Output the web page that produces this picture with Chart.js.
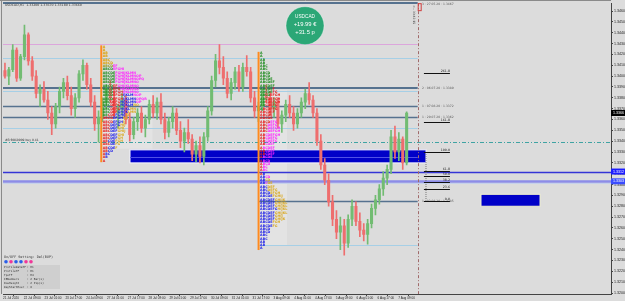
<!DOCTYPE html>
<html><head><meta charset="utf-8">
<script src="https://cdn.jsdelivr.net/npm/chart.js@4.4.1/dist/chart.umd.min.js"></script>
<style>html,body{margin:0;padding:0;background:#dcdcdc;overflow:hidden}#wrap{width:625px;height:301px}</style>
</head><body><div id="wrap"><canvas id="c" width="625" height="301"></canvas></div>
<script>
// ---- data (3-hour candles of USDCAD H1 chart) ----
const opens = [1.3405,1.3400,1.3406,1.3424,1.3398,1.3418,1.3438,1.3414,1.3400,1.3384,
1.3388,1.3378,1.3366,1.3356,1.3372,1.3386,1.3394,1.3382,1.3370,1.3380,
1.3402,1.3410,1.3392,1.3376,1.3356,1.3362,1.3376,1.3388,1.3380,1.3366,
1.3370,1.3378,1.3360,1.3346,1.3358,1.3366,1.3352,1.3360,1.3374,1.3366,
1.3376,1.3360,1.3348,1.3358,1.3366,1.3350,1.3340,1.3348,1.3342,1.3328,
1.3336,1.3326,1.3344,1.3368,1.3396,1.3414,1.3408,1.3398,1.3384,1.3394,
1.3404,1.3390,1.3408,1.3404,1.3380,1.3368,1.3372,1.3384,1.3380,1.3370,
1.3376,1.3356,1.3364,1.3374,1.3366,1.3356,1.3366,1.3376,1.3384,1.3378,
1.3366,1.3340,1.3318,1.3304,1.3284,1.3268,1.3256,1.3262,1.3246,1.3268,
1.3280,1.3266,1.3258,1.3254,1.3264,1.3278,1.3286,1.3296,1.3306,1.3314,
1.3344,1.3330,1.3342,1.3320];
const highs = [1.3412,1.3408,1.3429,1.3426,1.3420,1.3447,1.3440,1.3418,1.3405,1.3392,
1.3395,1.3386,1.3372,1.3375,1.3390,1.3398,1.3400,1.3390,1.3384,1.3405,
1.3415,1.3412,1.3398,1.3382,1.3368,1.3380,1.3392,1.3396,1.3386,1.3374,
1.3384,1.3382,1.3366,1.3362,1.3370,1.3372,1.3364,1.3378,1.3382,1.3380,
1.3384,1.3366,1.3362,1.3372,1.3370,1.3358,1.3352,1.3360,1.3346,1.3340,
1.3344,1.3348,1.3372,1.3400,1.3420,1.3429,1.3418,1.3404,1.3398,1.3408,
1.3410,1.3412,1.3419,1.3408,1.3386,1.3376,1.3388,1.3392,1.3386,1.3380,
1.3380,1.3368,1.3378,1.3382,1.3372,1.3370,1.3380,1.3388,1.3394,1.3382,
1.3370,1.3346,1.3324,1.3310,1.3290,1.3276,1.3270,1.3268,1.3272,1.3286,
1.3284,1.3274,1.3264,1.3268,1.3282,1.3290,1.3300,1.3312,1.3318,1.3350,
1.3354,1.3348,1.3344,1.3367];
const lows = [1.3398,1.3392,1.3404,1.3395,1.3396,1.3415,1.3410,1.3396,1.3380,1.3372,
1.3376,1.3360,1.3346,1.3352,1.3366,1.3380,1.3378,1.3364,1.3362,1.3376,
1.3396,1.3388,1.3372,1.3350,1.3339,1.3358,1.3370,1.3376,1.3362,1.3352,
1.3364,1.3356,1.3340,1.3342,1.3350,1.3348,1.3344,1.3356,1.3362,1.3360,
1.3356,1.3342,1.3344,1.3352,1.3346,1.3334,1.3330,1.3338,1.3322,1.3321,
1.3320,1.3318,1.3340,1.3364,1.3390,1.3402,1.3392,1.3380,1.3378,1.3388,
1.3386,1.3386,1.3400,1.3376,1.3362,1.3358,1.3368,1.3376,1.3364,1.3362,
1.3352,1.3348,1.3358,1.3362,1.3350,1.3352,1.3362,1.3370,1.3374,1.3362,
1.3336,1.3314,1.3300,1.3280,1.3262,1.3250,1.3240,1.3235,1.3242,1.3262,
1.3262,1.3252,1.3248,1.3245,1.3260,1.3272,1.3282,1.3290,1.3300,1.3310,
1.3324,1.3322,1.3314,1.3318];
const closes = [1.3400,1.3406,1.3424,1.3398,1.3418,1.3438,1.3414,1.3400,1.3384,1.3388,
1.3378,1.3366,1.3356,1.3372,1.3386,1.3394,1.3382,1.3370,1.3380,1.3402,
1.3410,1.3392,1.3376,1.3356,1.3362,1.3376,1.3388,1.3380,1.3366,1.3370,
1.3378,1.3360,1.3346,1.3358,1.3366,1.3352,1.3360,1.3374,1.3366,1.3376,
1.3360,1.3348,1.3358,1.3366,1.3350,1.3340,1.3348,1.3342,1.3328,1.3336,
1.3326,1.3344,1.3368,1.3396,1.3414,1.3408,1.3398,1.3384,1.3394,1.3404,
1.3390,1.3408,1.3404,1.3380,1.3368,1.3372,1.3384,1.3380,1.3370,1.3376,
1.3356,1.3364,1.3374,1.3366,1.3356,1.3366,1.3376,1.3384,1.3378,1.3366,
1.3340,1.3318,1.3304,1.3284,1.3268,1.3256,1.3262,1.3246,1.3268,1.3280,
1.3266,1.3258,1.3254,1.3264,1.3278,1.3286,1.3296,1.3306,1.3314,1.3344,
1.3330,1.3342,1.3320,1.3366];
const dateLabels = ["21 Jul 2020","22 Jul 09:00","23 Jul 01:00","23 Jul 17:00","24 Jul 09:00","27 Jul 01:00","27 Jul 17:00","28 Jul 09:00","29 Jul 01:00","29 Jul 17:00","30 Jul 09:00","31 Jul 01:00","31 Jul 17:00","3 Aug 09:00","4 Aug 01:00","4 Aug 17:00","5 Aug 09:00","6 Aug 01:00","6 Aug 17:00","7 Aug 09:00"];
const priceTicks = [1.3200,1.3210,1.3220,1.3230,1.3240,1.3250,1.3260,1.3270,1.3280,1.3290,1.3300,1.3310,1.3320,1.3330,1.3340,1.3350,1.3360,1.3370,1.3380,1.3390,1.3400,1.3410,1.3420,1.3430,1.3440,1.3450,1.3460];
// levels drawn by indicators
const darkLevels = [1.34675,1.3389,1.3372,1.3362,1.3285];
const darkLevelLabels = ["3 : 27.05.20 : 1.3467","2 : 06.07.20 : 1.3389","1 : 07.08.20 : 1.3372","1 : 29.07.20 : 1.3362","1 : 03.08.20 : 1.3285"];
const lightLevels = [1.3417,1.3386,1.3352,1.3244];
const pinkLevel = 1.3430;
const buyBoxLevel = 1.3339;
const supportLevels = [1.3312,1.3303,1.3301];
const zone = [1.3332,1.3320,1.3325];
const smallZone = [1.3291,1.3280];
const fibLow = 1.3285, fibHigh = 1.3330;
const fibLevels = [0,23.6,38.2,50,61.8,100,161.8,261.8];
const profile1Rows = ["O1","O1","O2","O2","O3","O4","L4M2","G4M5","G5M9","G5M11","G5M12","G5M10","G4R2M9","G4R3M8","G4R4M7","G4R4B5M3","G4R4B6M4","G3R4B7M2","G3R4B6Y2","G3R4B5Y2","G3R3B5Y3","G2R3B5Y2","R4B4Y3","R4B4Y2","R3B4Y3","R3B3Y3","R3B3Y4","R3B3Y3","R3B3Y2","R2B3Y3","R3B2Y2","R2B3Y1","R2B2","R1B2","R1B1","R1"];
const profile2Rows = ["G1","G1","G2","G2","G3","G3","G4","G4","G5","G6","G6","G5R1","G5R2","G4R4","G3R5","G2R6","G2R5","G1R6","R6","R5","R5","R4M3","R3M4","R3M5","R3M5","R2M6","R2M5","R2M5","R2M4","R1M5","R2M4","R2M4","R1M4","R1M3","R1M3","R1M2","R1M2","R1B1","B2M2","B2Y2","B2M1Y2","B3Y3","B3Y4","B4Y4","B5Y5","B6Y5","B6Y6","B6Y6","B7Y5","B6Y6","B6Y4","B6Y5","B5Y3","B5Y2","B4","B4","B3","B3","B2","B2","B1"];
const settings = [["ProfileDataTF",": H1"],["ProfileTF",": H1"],["TpoTF",": H4"],["IBNumbers",": 2 Bar(s)"],["RowHeight",": 2 Pip(s)"],["DayStartHour",": 0"]];

const UP='#72bc72', DN='#ee6e6e';
const barHour = i => i*3+1.5;
const cols = opens.map((o,i)=> closes[i]>=o ? UP : DN);
const wickData = opens.map((o,i)=>({x:barHour(i), y:[lows[i],highs[i]]}));
const bodyData = opens.map((o,i)=>({x:barHour(i), y:[Math.min(o,closes[i]),Math.max(o,closes[i])]}));

const TPO = "ABCDEFGHIJKLMNOPQRSTUVWXYZ";
const tpoCol = {O:'#dba000',L:'#8f9a1c',G:'#1e8c1e',R:'#e61a1a',M:'#ff22ff',B:'#1a1ae8',Y:'#d9a820'};

const overlay = {
  id:'overlay',
  beforeDraw(chart){const c=chart.ctx;c.save();c.fillStyle='#dcdcdc';c.fillRect(0,0,chart.width,chart.height);c.restore();},
  beforeDatasetsDraw(chart){
    const ctx=chart.ctx, ca=chart.chartArea, x=chart.scales.x, y=chart.scales.y;
    const X=h=>x.getPixelForValue(h), Y=p=>y.getPixelForValue(p);
    ctx.save();
    // frame
    ctx.strokeStyle='#8a8a8a';ctx.lineWidth=1;
    ctx.beginPath();ctx.moveTo(1.5,0);ctx.lineTo(1.5,ca.bottom);ctx.moveTo(0,0.5);ctx.lineTo(ca.right,0.5);ctx.stroke();
    // profile backgrounds
    ctx.fillStyle='#e3e3e3';
    ctx.fillRect(X(76.5),Y(1.3387),X(115)-X(76.5),Y(1.3333)-Y(1.3387));
    ctx.fillRect(X(197),Y(1.3387),X(218.5)-X(197),Y(1.3244)-Y(1.3387));
    const hl=(p,h0,h1,color,w,dash)=>{ctx.beginPath();ctx.setLineDash(dash||[]);ctx.strokeStyle=color;ctx.lineWidth=w;const yy=Math.round(Y(p))+(w%2?0.5:0);ctx.moveTo(X(h0),yy);ctx.lineTo(X(h1),yy);ctx.stroke();};
    hl(pinkLevel,0,319,'#dca6dc',1);
    lightLevels.forEach((p,k)=>hl(p,k===3?197:0,319,'#a6cfe6',1));
    darkLevels.forEach((p,k)=>hl(p,k===4?197:0,319,'#56728f',k<2?2:1.5));
    // zone rectangle
    ctx.setLineDash([]);
    ctx.fillStyle='#0000c8';
    const zx0=X(97.7), zx1=X(325.4), zy0=Y(zone[0]), zy1=Y(zone[1]);
    ctx.fillRect(zx0,zy0,zx1-zx0,zy1-zy0);
    ctx.strokeStyle='#f4f4ff';ctx.lineWidth=1;ctx.strokeRect(zx0,zy0,zx1-zx0,zy1-zy0);
    hl(zone[2],97.7,319,'#5050e6',1);
    // small zone
    const sx0=X(367.7), sx1=X(413.1), sy0=Y(smallZone[0]), sy1=Y(smallZone[1]);
    ctx.fillRect(sx0,sy0,sx1-sx0,sy1-sy0);
    ctx.strokeStyle='#f0f0d0';ctx.strokeRect(sx0,sy0,sx1-sx0,sy1-sy0);
    // full width lines
    hl(buyBoxLevel,0,x.max,'#3fa3a3',1,[4,2,1,2]);
    hl(supportLevels[2],0,x.max,'#c6d2ea',1);
    hl(supportLevels[1],0,x.max,'#8c8ce8',2.5);
    hl(supportLevels[0],0,x.max,'#3535d6',1.5);
    // now line
    ctx.beginPath();ctx.setLineDash([3,2,1,2]);ctx.strokeStyle='#a06a6a';ctx.lineWidth=1;
    ctx.moveTo(Math.round(X(319))+0.5,ca.top);ctx.lineTo(Math.round(X(319))+0.5,ca.bottom);ctx.stroke();
    ctx.restore();
  },
  afterDatasetsDraw(chart){
    const ctx=chart.ctx, ca=chart.chartArea, x=chart.scales.x, y=chart.scales.y;
    const X=h=>x.getPixelForValue(h), Y=p=>y.getPixelForValue(p);
    ctx.save();
    // profiles
    const drawProfile=(rows,start,h0)=>{
      const step=0.0003;
      ctx.setLineDash([]);ctx.strokeStyle='#ff8a1e';ctx.lineWidth=2;
      ctx.beginPath();ctx.moveTo(X(h0),Y(start)-1.5);ctx.lineTo(X(h0),Y(start-(rows.length-1)*step)+1.5);ctx.stroke();
      ctx.font='bold 3.3px "DejaVu Sans"';ctx.textBaseline='middle';ctx.textAlign='left';
      rows.forEach((row,k)=>{
        const yy=Y(start-k*step); let xx=X(h0)+1.5; let li=0;
        (row.match(/[A-Z]\d+/g)||[]).forEach(s=>{const n=+s.slice(1);const t=TPO.slice(li,li+n);ctx.fillStyle=tpoCol[s[0]];ctx.fillText(t,xx,yy);xx+=ctx.measureText(t).width;li+=n;});
      });
    };
    drawProfile(profile1Rows,1.3427,75.6);
    drawProfile(profile2Rows,1.3421,196.6);
    // level labels
    ctx.font='3px "DejaVu Sans"';ctx.fillStyle='#5a5a5a';ctx.textBaseline='middle';ctx.textAlign='left';
    darkLevels.forEach((p,k)=>{ctx.fillText(darkLevelLabels[k],X(322.3),Math.max(Y(p),ca.top+1.5));});
    // fibonacci
    const fx0=X(323.8), fx1=X(343.8);
    ctx.setLineDash([1,1]);ctx.strokeStyle='#777';ctx.lineWidth=1;
    ctx.beginPath();ctx.moveTo(X(325)+0.5,Y(fibHigh));ctx.lineTo(X(325)+0.5,Y(fibLow));ctx.stroke();
    ctx.setLineDash([]);
    ctx.font='3.2px "DejaVu Sans"';ctx.textAlign='right';ctx.textBaseline='bottom';
    fibLevels.forEach(l=>{const p=fibLow+(fibHigh-fibLow)*l/100;const yy=Math.round(Y(p))+0.5;
      ctx.strokeStyle='#111';ctx.lineWidth=1;ctx.beginPath();ctx.moveTo(fx0,yy);ctx.lineTo(fx1,yy);ctx.stroke();
      ctx.fillStyle='#222';ctx.fillText(l.toFixed(1),fx1,yy-0.5);});
    // buy box label
    ctx.textAlign='left';ctx.textBaseline='bottom';ctx.fillStyle='#333';ctx.font='3px "DejaVu Sans"';
    ctx.fillText('#ErBOX0909 buy 0.41',ca.left+2,Y(buyBoxLevel)-0.5);
    // header
    ctx.textBaseline='top';ctx.font='3.2px "DejaVu Sans"';ctx.fillStyle='#333';
    const L=closes.length-1;
    ctx.fillText('USDCAD,H1  '+opens[L].toFixed(5)+' '+highs[L].toFixed(5)+' '+lows[L].toFixed(5)+' '+closes[L].toFixed(5),ca.left+2,ca.top+0.5);
    // countdown text near now-line
    ctx.save();ctx.translate(X(319)-2.5,ca.top+2);ctx.rotate(Math.PI/2);ctx.font='3px "DejaVu Sans"';ctx.fillStyle='#444';ctx.fillText('<-- 00:42:15',0,0);ctx.restore();
    ctx.strokeStyle='#d04040';ctx.lineWidth=1;ctx.strokeRect(X(319)+0.5,ca.top+0.5,3,7);
    // badge
    const bx=ca.left+302, by=ca.top+22.5;
    ctx.beginPath();ctx.arc(bx,by,19,0,Math.PI*2);ctx.fillStyle='#2ba776';ctx.fill();
    ctx.strokeStyle='rgba(255,255,255,0.35)';ctx.lineWidth=1;ctx.stroke();
    ctx.fillStyle='#ffffff';ctx.textAlign='center';ctx.textBaseline='middle';
    ctx.font='4.7px "Liberation Sans"';ctx.fillText('USDCAD',bx,by-8.5);
    ctx.font='5.8px "Liberation Sans"';ctx.fillText('+19.99 €',bx,by-1);
    ctx.fillText('+31.5 p',bx,by+7);
    // info panel
    ctx.textAlign='left';ctx.textBaseline='middle';ctx.fillStyle='#333';
    ctx.font='3.4px "DejaVu Sans Mono"';ctx.fillText('On/OFF Setting: Del(BUP)',4,257);
    const dots=['#2a5ee8','#f0379a','#2a5ee8','#2a5ee8','#f0379a','#f0379a'];
    dots.forEach((c,k)=>{ctx.beginPath();ctx.arc(6+k*5,261.8,1.8,0,Math.PI*2);ctx.fillStyle=c;ctx.fill();});
    ctx.fillStyle='#cfcfcf';ctx.fillRect(3,265,57,24);
    ctx.fillStyle='#333';ctx.font='2.8px "DejaVu Sans Mono"';
    settings.forEach((s,k)=>{ctx.fillText(s[0],4,267.5+k*4);ctx.fillText(s[1],27,267.5+k*4);});
    ctx.restore();
  },
  afterDraw(chart){
    const ctx=chart.ctx, y=chart.scales.y, ca=chart.chartArea;
    ctx.save();
    const tag=(p,bg)=>{const yy=y.getPixelForValue(p);ctx.fillStyle=bg;ctx.fillRect(ca.right,yy-3,14,6);ctx.fillStyle='#fff';ctx.font='3.6px "Liberation Sans"';ctx.textAlign='left';ctx.textBaseline='middle';ctx.fillText(p.toFixed(4),ca.right+2,yy);};
    tag(supportLevels[0],'#1c1cff');
    tag(supportLevels[1],'#3a4cff');
    tag(closes[closes.length-1],'#000000');
    ctx.restore();
  }
};

new Chart(document.getElementById('c'),{
  type:'bar',
  data:{datasets:[
    {data:wickData,backgroundColor:cols,borderWidth:0,barThickness:1,grouped:false,order:2},
    {data:bodyData,backgroundColor:cols,borderWidth:0,barThickness:2.4,grouped:false,order:1}
  ]},
  options:{
    responsive:false,animation:false,events:[],
    layout:{padding:{left:3,top:3,right:0,bottom:0}},
    plugins:{legend:{display:false},tooltip:{enabled:false}},
    scales:{
      x:{type:'linear',min:0,max:467.7,offset:false,
        grid:{drawOnChartArea:false,tickLength:2,color:'#444'},border:{color:'#444'},
        afterBuildTicks:s=>{s.ticks=dateLabels.map((_,k)=>({value:k*16}));},
        ticks:{autoSkip:false,maxRotation:0,align:'start',padding:0,color:'#222',font:{size:3.1,family:'Liberation Sans'},callback:(v,i)=>dateLabels[i]},
        afterFit:s=>{s.height=7;}},
      y:{position:'right',min:1.319908,max:1.346728,
        grid:{drawOnChartArea:false,tickLength:2,color:'#444'},border:{color:'#444'},
        afterBuildTicks:s=>{s.ticks=priceTicks.map(v=>({value:v}));},
        ticks:{padding:1,color:'#222',font:{size:3.6,family:'Liberation Sans'},callback:v=>v.toFixed(4)},
        afterFit:s=>{s.width=14;}}
    }
  },
  plugins:[overlay]
});
</script></body></html>
